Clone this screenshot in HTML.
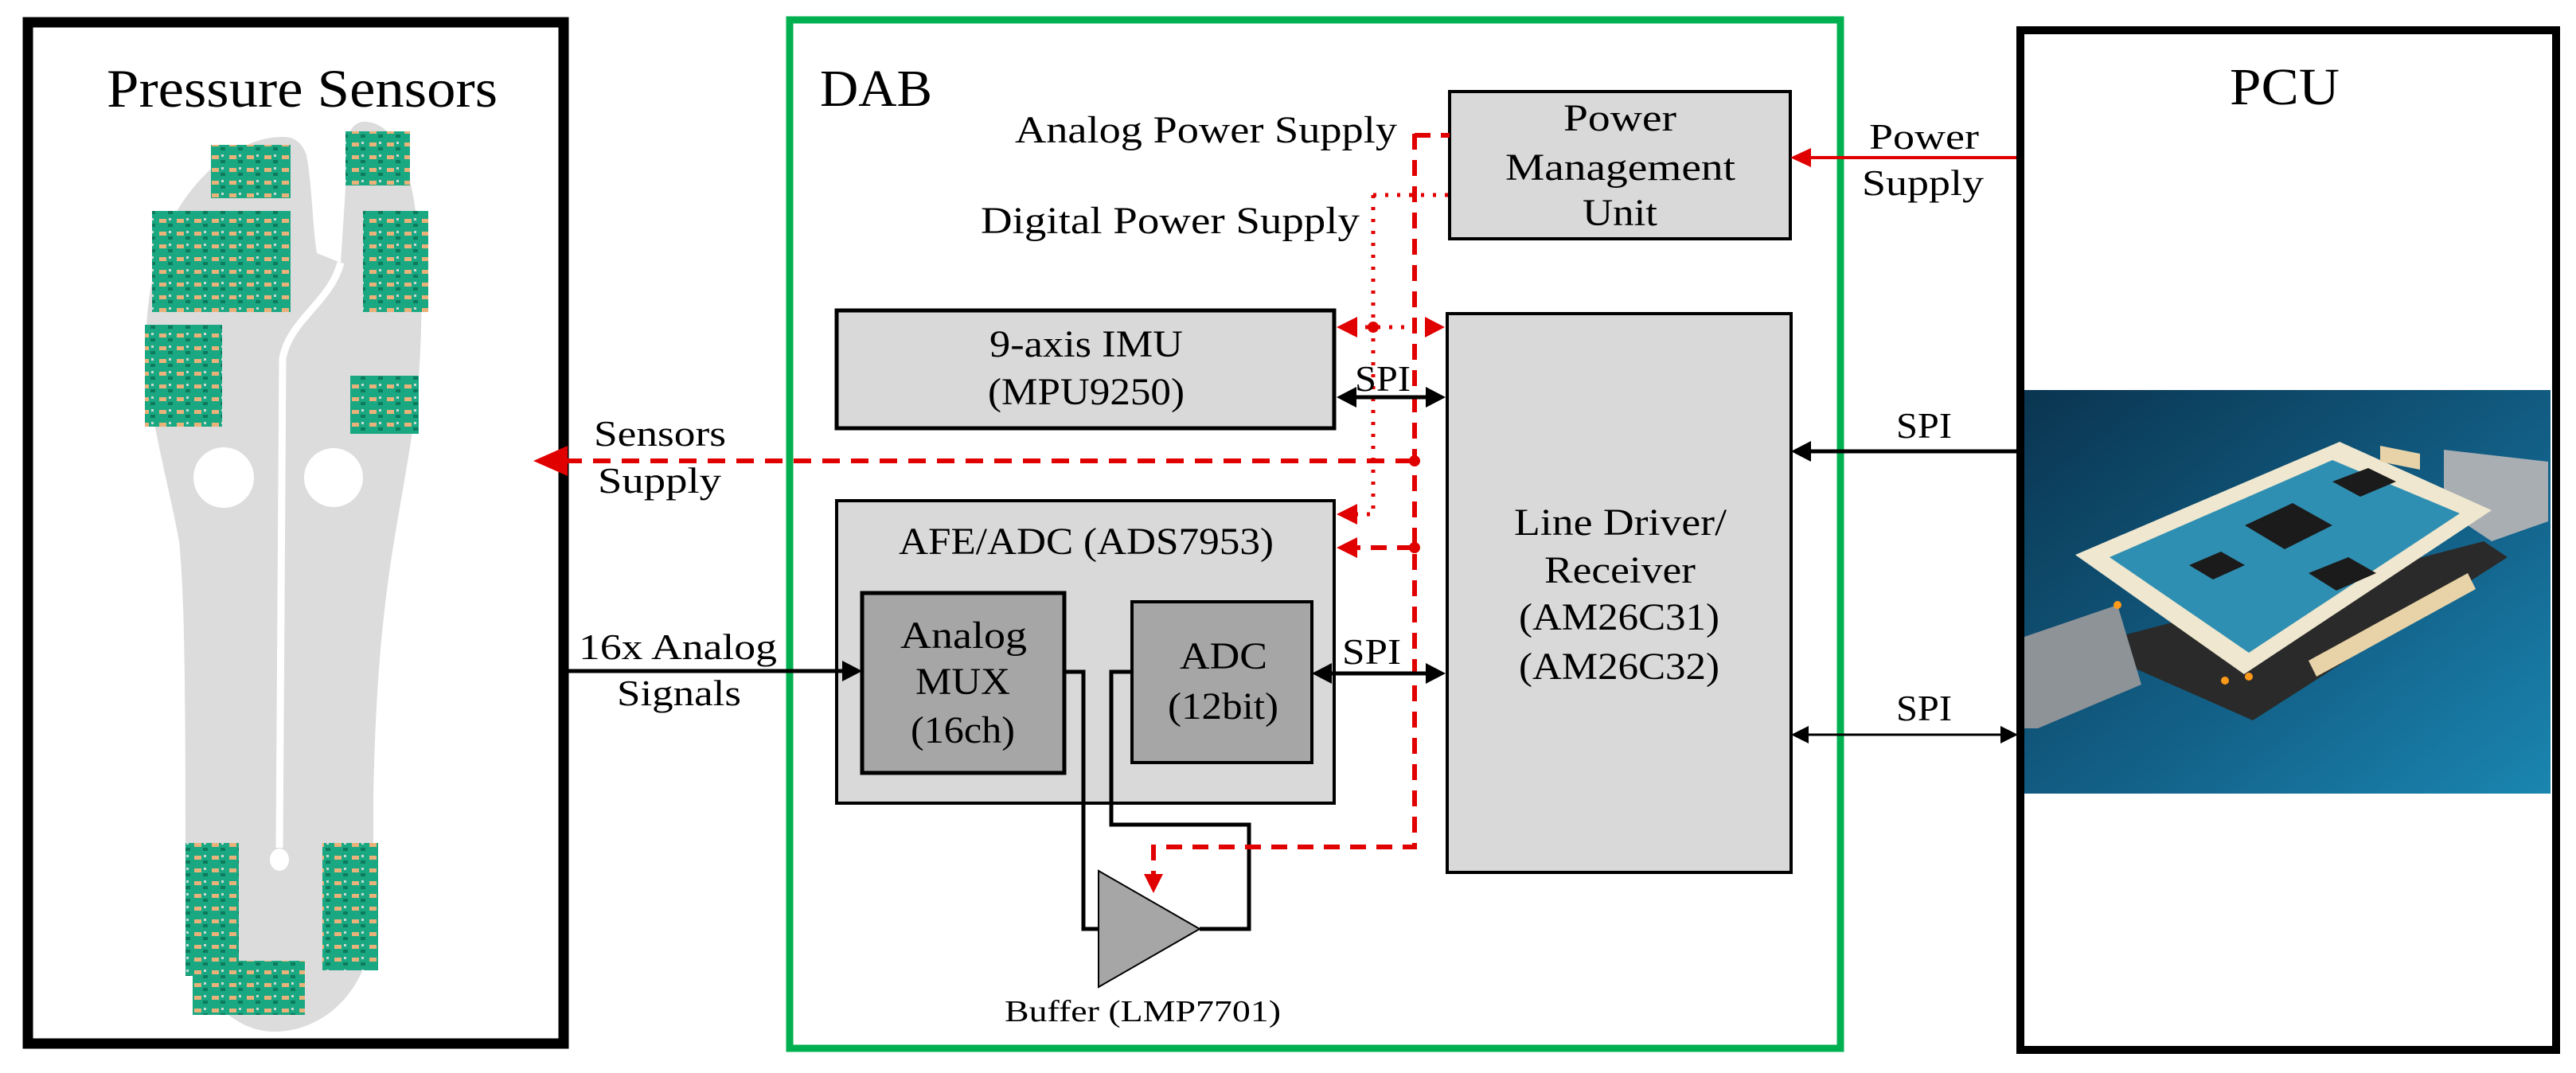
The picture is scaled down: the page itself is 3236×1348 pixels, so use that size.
<!DOCTYPE html>
<html><head><meta charset="utf-8"><style>
html,body{margin:0;padding:0;background:#fff;}
svg{display:block;}
text{font-family:"Liberation Serif",serif;fill:#000;}
</style></head><body>
<svg width="3236" height="1348" viewBox="0 0 3236 1348" xmlns="http://www.w3.org/2000/svg">
<defs>
<pattern id="pcb" width="22" height="16" patternUnits="userSpaceOnUse">
<rect width="22" height="16" fill="#1aa883"/>
<rect x="2" y="3" width="9" height="5" fill="#e9b27a"/>
<rect x="13" y="9" width="6" height="4" fill="#0d7a5c"/>
<rect x="14" y="2" width="3" height="3" fill="#c9d9d0"/>
</pattern>
<linearGradient id="bg" x1="0" y1="0" x2="1" y2="1">
<stop offset="0" stop-color="#0a3550"/><stop offset="0.6" stop-color="#13628a"/><stop offset="1" stop-color="#1a86b0"/>
</linearGradient>
</defs>

<!-- LEFT BOX -->
<rect x="35" y="28" width="673" height="1283" fill="#fff" stroke="#000" stroke-width="13"/>
<text x="134" y="134" font-size="68" textLength="491" lengthAdjust="spacingAndGlyphs">Pressure Sensors</text>
<!-- foot -->
<path d="M357,172 C300,170 235,225 205,300 C185,360 180,420 185,470 C192,540 210,600 225,680 C233,760 233,900 233,1150 C233,1240 290,1296 344,1296 C410,1296 469,1240 469,1150 L469,1000 C472,850 482,760 495,680 C508,600 525,520 528,440 C532,360 528,250 505,195 C492,160 470,152 455,153 C440,156 436,170 437,190 L428,330 L398,318 C392,280 392,230 385,195 C380,180 370,172 357,172 Z" fill="#dcdcdc"/>
<path d="M428,330 C415,380 365,400 355,450 L351,1065" fill="none" stroke="#fff" stroke-width="9"/>
<ellipse cx="351" cy="1080" rx="12" ry="14" fill="#fff"/>
<circle cx="281" cy="600" r="38" fill="#fff"/>
<circle cx="419" cy="600" r="37" fill="#fff"/>
<g fill="url(#pcb)">
<rect x="265" y="182" width="100" height="67"/>
<rect x="191" y="265" width="174" height="127"/>
<rect x="182" y="408" width="97" height="128"/>
<rect x="434" y="165" width="81" height="68"/>
<rect x="456" y="265" width="82" height="127"/>
<rect x="440" y="472" width="86" height="73"/>
<rect x="233" y="1059" width="67" height="167"/>
<rect x="405" y="1059" width="70" height="160"/>
<rect x="242" y="1207" width="141" height="68"/>
</g>

<!-- GREEN DAB BOX -->
<rect x="992" y="25" width="1320" height="1292" fill="none" stroke="#00b050" stroke-width="9"/>
<text x="1030" y="133" font-size="66" textLength="141" lengthAdjust="spacingAndGlyphs">DAB</text>
<text x="1275" y="179" font-size="48" textLength="480" lengthAdjust="spacingAndGlyphs">Analog Power Supply</text>
<text x="1232" y="293" font-size="48" textLength="476" lengthAdjust="spacingAndGlyphs">Digital Power Supply</text>

<!-- PMU -->
<rect x="1821" y="115" width="428" height="185" fill="#d9d9d9" stroke="#000" stroke-width="4"/>
<text x="1964" y="164" font-size="48" textLength="142" lengthAdjust="spacingAndGlyphs">Power</text>
<text x="1891" y="226" font-size="48" textLength="289" lengthAdjust="spacingAndGlyphs">Management</text>
<text x="1988" y="283" font-size="48" textLength="94" lengthAdjust="spacingAndGlyphs">Unit</text>

<!-- IMU -->
<rect x="1051" y="390" width="625" height="148" fill="#d9d9d9" stroke="#000" stroke-width="5"/>
<text x="1243" y="448" font-size="48" textLength="243" lengthAdjust="spacingAndGlyphs">9-axis IMU</text>
<text x="1241" y="508" font-size="48" textLength="247" lengthAdjust="spacingAndGlyphs">(MPU9250)</text>

<!-- Line driver -->
<rect x="1818" y="394" width="432" height="702" fill="#d9d9d9" stroke="#000" stroke-width="4"/>
<text x="1902" y="672" font-size="48" textLength="267" lengthAdjust="spacingAndGlyphs">Line Driver/</text>
<text x="1940" y="732" font-size="48" textLength="190" lengthAdjust="spacingAndGlyphs">Receiver</text>
<text x="1908" y="791" font-size="48" textLength="252" lengthAdjust="spacingAndGlyphs">(AM26C31)</text>
<text x="1908" y="853" font-size="48" textLength="252" lengthAdjust="spacingAndGlyphs">(AM26C32)</text>

<!-- AFE -->
<rect x="1051" y="629" width="625" height="380" fill="#d9d9d9" stroke="#000" stroke-width="4"/>
<text x="1129" y="696" font-size="48" textLength="471" lengthAdjust="spacingAndGlyphs">AFE/ADC (ADS7953)</text>
<rect x="1083" y="745" width="254" height="226" fill="#a6a6a6" stroke="#000" stroke-width="5"/>
<text x="1131" y="814" font-size="48" textLength="159" lengthAdjust="spacingAndGlyphs">Analog</text>
<text x="1150" y="872" font-size="48" textLength="119" lengthAdjust="spacingAndGlyphs">MUX</text>
<text x="1144" y="933" font-size="48" textLength="131" lengthAdjust="spacingAndGlyphs">(16ch)</text>
<rect x="1422" y="756" width="226" height="202" fill="#a6a6a6" stroke="#000" stroke-width="4"/>
<text x="1482" y="840" font-size="48" textLength="110" lengthAdjust="spacingAndGlyphs">ADC</text>
<text x="1467" y="903" font-size="48" textLength="139" lengthAdjust="spacingAndGlyphs">(12bit)</text>

<!-- buffer wiring -->
<polyline points="1337,844 1361,844 1361,1167 1382,1167" fill="none" stroke="#000" stroke-width="5"/>
<polyline points="1507,1167 1569,1167 1569,1036 1396,1036 1396,844 1422,844" fill="none" stroke="#000" stroke-width="5"/>
<polygon points="1380,1094 1380,1240 1507,1167" fill="#a6a6a6" stroke="#000" stroke-width="2"/>
<text x="1262" y="1283" font-size="38" textLength="347" lengthAdjust="spacingAndGlyphs">Buffer (LMP7701)</text>

<!-- red power lines -->
<g stroke="#e00000" fill="none" stroke-width="6">
<path d="M1777,168 L1777,1064 L1449,1064 L1449,1100" stroke-dasharray="20,13"/>
<path d="M1777,170 L1821,170" stroke-dasharray="20,13"/>
<path d="M1775,579 L700,579" stroke-dasharray="22,14"/>
<path d="M1775,688 L1700,688" stroke-dasharray="20,13"/>
</g>
<g stroke="#e00000" fill="none" stroke-width="5" stroke-dasharray="4,11">
<path d="M1725,245 L1725,646 L1700,646"/>
<path d="M1725,245 L1821,245"/>
<path d="M1700,411 L1795,411"/>
</g>
<g fill="#e00000">
<polygon points="1679,411 1705,398 1705,424"/>
<polygon points="1815,411 1790,398 1790,424"/>
<polygon points="1679,646 1705,633 1705,659"/>
<polygon points="1679,688 1705,675 1705,701"/>
<polygon points="670,579 713,560 713,598"/>
<polygon points="1449,1122 1437,1098 1461,1098"/>
<circle cx="1725" cy="411" r="7"/>
<circle cx="1777" cy="579" r="7"/>
<circle cx="1777" cy="688" r="7"/>
<polygon points="2249,198 2275,186 2275,210"/>
</g>
<line x1="2270" y1="198" x2="2533" y2="198" stroke="#e00000" stroke-width="4"/>

<!-- black SPI arrows -->
<g stroke="#000" stroke-width="5">
<line x1="1695" y1="499" x2="1800" y2="499"/>
<line x1="1665" y1="846" x2="1800" y2="846"/>
<line x1="705" y1="843" x2="1065" y2="843"/>
<line x1="2268" y1="567" x2="2533" y2="567"/>
<line x1="2265" y1="923" x2="2520" y2="923" stroke-width="3"/>
</g>
<g fill="#000">
<polygon points="1679,499 1704,486 1704,512"/>
<polygon points="1816,499 1791,486 1791,512"/>
<polygon points="1648,846 1673,833 1673,859"/>
<polygon points="1816,846 1791,833 1791,859"/>
<polygon points="1083,843 1058,830 1058,856"/>
<polygon points="2250,567 2275,554 2275,580"/>
<polygon points="2250,923 2272,912 2272,934"/>
<polygon points="2535,923 2513,912 2513,934"/>
</g>
<text x="1702" y="491" font-size="46" textLength="70" lengthAdjust="spacingAndGlyphs">SPI</text>
<text x="1686" y="834" font-size="46" textLength="74" lengthAdjust="spacingAndGlyphs">SPI</text>
<text x="746" y="560" font-size="46" textLength="166" lengthAdjust="spacingAndGlyphs">Sensors</text>
<text x="751" y="619" font-size="46" textLength="155" lengthAdjust="spacingAndGlyphs">Supply</text>
<text x="727" y="828" font-size="46" textLength="249" lengthAdjust="spacingAndGlyphs">16x Analog</text>
<text x="775" y="886" font-size="46" textLength="156" lengthAdjust="spacingAndGlyphs">Signals</text>
<text x="2348" y="187" font-size="46" textLength="138" lengthAdjust="spacingAndGlyphs">Power</text>
<text x="2339" y="245" font-size="46" textLength="153" lengthAdjust="spacingAndGlyphs">Supply</text>
<text x="2382" y="550" font-size="46" textLength="70" lengthAdjust="spacingAndGlyphs">SPI</text>
<text x="2382" y="905" font-size="46" textLength="70" lengthAdjust="spacingAndGlyphs">SPI</text>

<!-- PCU BOX -->
<rect x="2538" y="38" width="673" height="1281" fill="#fff" stroke="#000" stroke-width="10"/>
<text x="2801" y="131" font-size="66" textLength="138" lengthAdjust="spacingAndGlyphs">PCU</text>
<!-- photo -->
<rect x="2543" y="490" width="661" height="507" fill="url(#bg)"/>
<polygon points="2660,830 2830,905 3150,700 3120,680 2660,800" fill="#2a2a2a"/>
<polygon points="3070,565 3201,580 3201,655 3130,680 3070,640" fill="#a9aeb3"/>
<polygon points="2543,800 2660,760 2690,860 2560,915 2543,915" fill="#8e9398"/>
<polygon points="2607,697 2939,555 3130,641 2819,847" fill="#efe7cf"/>
<polygon points="2650,700 2930,578 3090,645 2825,820" fill="#2f8fb2"/>
<polygon points="2820,660 2880,632 2930,660 2870,690" fill="#1b1b1b"/>
<polygon points="2930,605 2975,588 3010,605 2965,624" fill="#1b1b1b"/>
<polygon points="2750,710 2790,693 2820,710 2780,728" fill="#1b1b1b"/>
<polygon points="2900,720 2950,700 2985,720 2935,742" fill="#1b1b1b"/>
<polygon points="2990,560 3040,570 3040,590 2990,580" fill="#e8d3a8"/>
<polygon points="2900,830 3100,720 3110,740 2910,850" fill="#e8d3a8"/>
<circle cx="2795" cy="855" r="5" fill="#ff9a1a"/>
<circle cx="2825" cy="850" r="5" fill="#ff9a1a"/>
<circle cx="2660" cy="760" r="5" fill="#ff9a1a"/>
</svg>
</body></html>
